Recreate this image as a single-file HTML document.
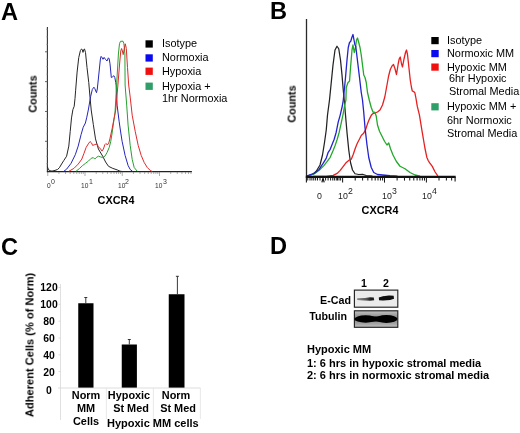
<!DOCTYPE html>
<html><head><meta charset="utf-8"><title>Figure</title>
<style>
html,body{margin:0;padding:0;background:#fff;}
body{width:520px;height:433px;position:relative;overflow:hidden;font-family:"Liberation Sans",sans-serif;}
svg{position:absolute;left:0;top:0;}
.t{position:absolute;white-space:nowrap;font-family:"Liberation Sans",sans-serif;will-change:transform;}
</style></head><body>
<svg width="520" height="433" viewBox="0 0 520 433">
<path d="M47.4 27V172.2" stroke="#333" stroke-width="1.1" fill="none"/>
<path d="M46.9 171.6H191.9" stroke="#222" stroke-width="1.35" fill="none"/>
<path d="M46.2 163.69H47.5" stroke="#999" stroke-width="0.7"/>
<path d="M46.2 156.23H47.5" stroke="#999" stroke-width="0.7"/>
<path d="M46.2 148.77H47.5" stroke="#999" stroke-width="0.7"/>
<path d="M45 141.31H47.5" stroke="#555" stroke-width="0.9"/>
<path d="M46.2 133.85H47.5" stroke="#999" stroke-width="0.7"/>
<path d="M46.2 126.39H47.5" stroke="#999" stroke-width="0.7"/>
<path d="M46.2 118.93H47.5" stroke="#999" stroke-width="0.7"/>
<path d="M45 111.47H47.5" stroke="#555" stroke-width="0.9"/>
<path d="M46.2 104.01H47.5" stroke="#999" stroke-width="0.7"/>
<path d="M46.2 96.55H47.5" stroke="#999" stroke-width="0.7"/>
<path d="M46.2 89.09H47.5" stroke="#999" stroke-width="0.7"/>
<path d="M45 81.63H47.5" stroke="#555" stroke-width="0.9"/>
<path d="M46.2 74.17H47.5" stroke="#999" stroke-width="0.7"/>
<path d="M46.2 66.71H47.5" stroke="#999" stroke-width="0.7"/>
<path d="M46.2 59.25H47.5" stroke="#999" stroke-width="0.7"/>
<path d="M45 51.79H47.5" stroke="#555" stroke-width="0.9"/>
<path d="M46.2 44.33H47.5" stroke="#999" stroke-width="0.7"/>
<path d="M46.2 36.87H47.5" stroke="#999" stroke-width="0.7"/>
<path d="M46.2 29.41H47.5" stroke="#999" stroke-width="0.7"/>
<path d="M47.75 172V176" stroke="#777" stroke-width="0.6"/>
<path d="M58.96 172V174" stroke="#777" stroke-width="0.6"/>
<path d="M65.52 172V174" stroke="#777" stroke-width="0.6"/>
<path d="M70.18 172V174" stroke="#777" stroke-width="0.6"/>
<path d="M73.79 172V174" stroke="#777" stroke-width="0.6"/>
<path d="M76.74 172V174" stroke="#777" stroke-width="0.6"/>
<path d="M79.23 172V174" stroke="#777" stroke-width="0.6"/>
<path d="M81.39 172V174" stroke="#777" stroke-width="0.6"/>
<path d="M83.30 172V174" stroke="#777" stroke-width="0.6"/>
<path d="M85.00 172V176" stroke="#777" stroke-width="0.6"/>
<path d="M96.21 172V174" stroke="#777" stroke-width="0.6"/>
<path d="M102.77 172V174" stroke="#777" stroke-width="0.6"/>
<path d="M107.43 172V174" stroke="#777" stroke-width="0.6"/>
<path d="M111.04 172V174" stroke="#777" stroke-width="0.6"/>
<path d="M113.99 172V174" stroke="#777" stroke-width="0.6"/>
<path d="M116.48 172V174" stroke="#777" stroke-width="0.6"/>
<path d="M118.64 172V174" stroke="#777" stroke-width="0.6"/>
<path d="M120.55 172V174" stroke="#777" stroke-width="0.6"/>
<path d="M122.25 172V176" stroke="#777" stroke-width="0.6"/>
<path d="M133.46 172V174" stroke="#777" stroke-width="0.6"/>
<path d="M140.02 172V174" stroke="#777" stroke-width="0.6"/>
<path d="M144.68 172V174" stroke="#777" stroke-width="0.6"/>
<path d="M148.29 172V174" stroke="#777" stroke-width="0.6"/>
<path d="M151.24 172V174" stroke="#777" stroke-width="0.6"/>
<path d="M153.73 172V174" stroke="#777" stroke-width="0.6"/>
<path d="M155.89 172V174" stroke="#777" stroke-width="0.6"/>
<path d="M157.80 172V174" stroke="#777" stroke-width="0.6"/>
<path d="M159.50 172V176" stroke="#777" stroke-width="0.6"/>
<path d="M170.71 172V174" stroke="#777" stroke-width="0.6"/>
<path d="M177.27 172V174" stroke="#777" stroke-width="0.6"/>
<path d="M181.93 172V174" stroke="#777" stroke-width="0.6"/>
<path d="M185.54 172V174" stroke="#777" stroke-width="0.6"/>
<path d="M188.49 172V174" stroke="#777" stroke-width="0.6"/>
<path d="M190.98 172V174" stroke="#777" stroke-width="0.6"/>
<polyline points="47.30,166.80 48.20,168.60 49.20,170.60 52.00,171.10 55.00,170.40 57.50,169.50 59.40,167.70 61.60,164.00 63.80,160.50 66.60,156.20 68.80,146.10 70.20,131.60 71.50,117.90 72.90,109.60 74.20,106.30 75.00,98.50 75.60,90.80 77.10,72.10 78.75,57.50 80.40,50.60 81.50,49.00 82.30,49.60 83.00,52.40 83.70,49.60 84.50,49.00 85.50,52.50 87.00,67.50 88.75,82.50 90.00,97.00 91.20,110.00 93.30,124.40 95.50,138.90 98.40,149.00 102.70,156.20 105.60,162.00 108.50,166.30 112.80,168.40 117.20,169.90 120.00,171.20 123.00,171.60" fill="none" stroke="#262626" stroke-width="1.0" stroke-linejoin="round"/>
<polyline points="63.80,171.30 66.60,169.20 71.00,163.40 75.30,154.70 78.20,146.10 81.10,134.50 83.20,127.30 85.40,123.00 86.80,117.20 88.30,110.00 89.50,103.00 90.70,96.30 92.30,89.50 93.90,87.20 94.80,88.60 96.50,92.70 97.30,89.00 98.75,75.00 100.40,59.00 101.10,56.40 102.40,58.00 103.00,59.30 104.10,57.40 105.60,59.50 107.00,61.00 108.40,57.80 109.20,58.80 110.00,63.75 111.30,77.50 112.60,76.80 113.90,75.70 114.80,77.50 115.75,82.50 116.10,85.00 117.10,105.10 119.10,121.20 120.50,131.00 122.10,141.30 125.10,155.40 128.10,165.50 130.20,169.50 132.40,171.20" fill="none" stroke="#2626b8" stroke-width="1.0" stroke-linejoin="round"/>
<polyline points="76.00,171.30 79.60,168.40 82.50,165.60 85.40,163.40 88.30,161.20 91.20,158.30 93.30,157.60 94.80,159.10 96.20,157.60 98.40,156.20 100.60,156.90 102.70,157.60 104.90,156.20 107.00,152.60 109.20,147.50 110.70,141.70 112.10,133.10 113.50,123.00 115.00,112.90 115.50,104.00 117.00,78.00 118.40,54.00 119.50,43.60 120.50,41.30 123.00,41.20 123.90,43.70 124.90,53.80 125.10,85.00 126.70,105.10 128.10,125.20 130.20,145.40 132.20,159.40 134.20,167.50 137.20,171.20" fill="none" stroke="#26a030" stroke-width="1.0" stroke-linejoin="round"/>
<polyline points="68.80,171.30 73.90,168.40 78.20,164.10 81.80,159.10 84.00,153.30 86.10,147.50 88.30,143.90 90.00,141.50 91.50,142.90 92.60,145.40 94.80,144.60 96.90,143.90 98.40,146.80 100.60,149.00 102.00,151.10 103.40,149.00 104.90,144.60 105.90,143.50 107.00,144.60 108.50,143.90 109.90,138.90 112.10,128.80 114.30,117.20 115.70,110.00 117.50,90.00 119.50,65.00 120.75,51.00 121.60,48.50 122.40,51.00 123.20,54.60 124.20,49.00 125.30,43.80 126.30,48.50 127.50,67.50 128.70,85.00 130.20,97.10 132.20,115.20 135.20,131.30 138.20,145.40 141.20,155.40 144.20,162.50 147.30,167.50 150.30,170.50 152.30,171.50" fill="none" stroke="#e02a2a" stroke-width="1.0" stroke-linejoin="round"/>
<rect x="145.5" y="40.3" width="7.3" height="7.3" fill="#000"/>
<rect x="145.5" y="54.3" width="7.3" height="7.3" fill="#0a0af0"/>
<rect x="145.5" y="67.6" width="7.3" height="7.3" fill="#f01010"/>
<rect x="145.5" y="82.6" width="7.3" height="7.3" fill="#2f9e68"/>
<polyline points="307.50,175.75 312.50,174.50 316.25,171.25 320.00,165.00 322.50,155.00 324.50,142.50 326.25,130.00 327.50,115.00 329.50,100.00 331.25,82.50 333.00,65.00 335.00,50.00 337.00,46.25 338.75,48.75 340.50,60.00 342.00,75.00 343.25,90.00 344.50,103.00 345.50,115.00 347.00,132.50 348.75,150.00 350.50,162.50 352.50,170.00 355.00,173.75 358.75,174.50 362.50,174.25 366.25,175.50 372.50,176.00" fill="none" stroke="#222" stroke-width="1.25" stroke-linejoin="round"/>
<polyline points="313.00,176.40 326.20,176.30 333.20,175.30 337.20,173.40 340.20,170.40 343.30,166.40 346.30,162.40 349.30,160.00 351.30,159.20 353.30,154.30 355.30,148.30 357.30,143.30 359.40,139.20 361.40,135.20 363.40,133.60 365.40,130.20 367.40,124.10 369.40,119.10 371.40,115.10 373.40,113.30 375.00,113.00 377.50,112.00 380.00,110.00 382.50,105.00 384.80,97.00 386.80,86.00 388.60,76.00 390.30,69.50 392.00,66.00 393.50,64.50 395.00,68.75 396.50,74.50 398.25,63.50 399.25,58.75 400.25,57.00 401.50,63.75 402.50,67.00 404.00,59.00 405.50,52.50 406.50,50.00 407.50,54.50 408.75,66.00 410.25,80.00 411.40,87.00 412.30,91.00 413.60,91.60 414.90,92.80 416.00,98.50 417.30,106.40 419.40,114.80 422.10,131.40 424.90,148.00 426.80,157.20 428.20,160.50 429.50,162.70 432.30,166.40 435.10,172.00 437.80,175.90" fill="none" stroke="#e62020" stroke-width="1.3" stroke-linejoin="round"/>
<polyline points="307.00,176.20 314.10,174.00 320.10,169.40 324.10,165.40 327.20,161.40 330.20,157.30 333.20,150.30 335.20,145.30 337.20,139.20 339.20,132.20 341.20,123.10 343.30,113.10 344.70,105.00 345.90,100.00 346.25,87.50 348.00,82.50 349.50,81.25 350.75,65.00 352.00,50.00 353.00,45.00 354.25,52.50 355.50,47.50 356.50,40.00 357.50,38.00 358.75,42.50 360.00,47.50 361.25,55.00 362.50,65.00 363.75,75.00 365.00,77.50 366.25,82.50 367.50,92.50 369.50,101.00 371.25,107.50 373.00,112.00 375.00,112.50 376.25,116.25 377.50,125.00 379.50,131.25 382.00,136.25 384.50,141.25 387.00,145.00 388.75,143.00 390.50,148.75 393.00,155.00 396.25,161.25 400.00,166.25 405.00,168.75 410.00,172.50 415.00,175.00 420.00,176.25" fill="none" stroke="#22a82a" stroke-width="1.3" stroke-linejoin="round"/>
<polyline points="307.00,176.00 308.00,175.50 314.10,173.40 319.10,169.40 323.10,163.40 326.20,158.40 328.20,152.30 330.20,149.30 332.20,144.30 334.20,139.20 336.20,132.20 338.20,122.10 340.20,115.10 342.30,106.00 343.30,100.00 343.90,94.00 345.50,77.50 347.00,60.00 348.25,47.50 349.50,42.50 350.75,41.25 352.00,37.00 353.00,34.50 354.00,40.00 355.00,45.00 355.75,46.25 356.50,52.50 358.00,65.00 359.50,77.50 361.25,92.50 362.50,100.00 363.75,112.50 365.00,127.50 367.00,145.00 368.75,157.50 371.25,167.50 373.75,172.50 377.50,174.50 382.50,175.00 390.00,175.75 397.50,176.25" fill="none" stroke="#2222d0" stroke-width="1.3" stroke-linejoin="round"/>
<path d="M306.5 19V177.4" stroke="#2a2a2a" stroke-width="1.3" fill="none"/>
<path d="M305.8 176.9H455.7" stroke="#111" stroke-width="2.3" fill="none"/>
<path d="M342.60 177.5V182.6" stroke="#1a1a1a" stroke-width="1.05"/>
<path d="M355.21 177.5V180.6" stroke="#1a1a1a" stroke-width="1.05"/>
<path d="M362.59 177.5V180.6" stroke="#1a1a1a" stroke-width="1.05"/>
<path d="M367.83 177.5V180.6" stroke="#1a1a1a" stroke-width="1.05"/>
<path d="M371.89 177.5V180.6" stroke="#1a1a1a" stroke-width="1.05"/>
<path d="M375.20 177.5V180.6" stroke="#1a1a1a" stroke-width="1.05"/>
<path d="M378.01 177.5V180.6" stroke="#1a1a1a" stroke-width="1.05"/>
<path d="M380.44 177.5V180.6" stroke="#1a1a1a" stroke-width="1.05"/>
<path d="M382.58 177.5V180.6" stroke="#1a1a1a" stroke-width="1.05"/>
<path d="M384.50 177.5V182.6" stroke="#1a1a1a" stroke-width="1.05"/>
<path d="M397.11 177.5V180.6" stroke="#1a1a1a" stroke-width="1.05"/>
<path d="M404.49 177.5V180.6" stroke="#1a1a1a" stroke-width="1.05"/>
<path d="M409.73 177.5V180.6" stroke="#1a1a1a" stroke-width="1.05"/>
<path d="M413.79 177.5V180.6" stroke="#1a1a1a" stroke-width="1.05"/>
<path d="M417.10 177.5V180.6" stroke="#1a1a1a" stroke-width="1.05"/>
<path d="M419.91 177.5V180.6" stroke="#1a1a1a" stroke-width="1.05"/>
<path d="M422.34 177.5V180.6" stroke="#1a1a1a" stroke-width="1.05"/>
<path d="M424.48 177.5V180.6" stroke="#1a1a1a" stroke-width="1.05"/>
<path d="M426.40 177.5V182.6" stroke="#1a1a1a" stroke-width="1.05"/>
<path d="M439.01 177.5V180.6" stroke="#1a1a1a" stroke-width="1.05"/>
<path d="M446.39 177.5V180.6" stroke="#1a1a1a" stroke-width="1.05"/>
<path d="M451.63 177.5V180.6" stroke="#1a1a1a" stroke-width="1.05"/>
<path d="M307.75 177.5V180.5" stroke="#1a1a1a" stroke-width="1.0"/>
<path d="M310.00 177.5V180.5" stroke="#1a1a1a" stroke-width="1.0"/>
<path d="M311.90 177.5V180.5" stroke="#1a1a1a" stroke-width="1.0"/>
<path d="M313.75 177.5V180.5" stroke="#1a1a1a" stroke-width="1.0"/>
<path d="M315.60 177.5V180.5" stroke="#1a1a1a" stroke-width="1.0"/>
<path d="M317.50 177.5V180.5" stroke="#1a1a1a" stroke-width="1.0"/>
<path d="M320.00 177.5V180.5" stroke="#1a1a1a" stroke-width="1.0"/>
<path d="M325.60 177.5V180.5" stroke="#1a1a1a" stroke-width="1.0"/>
<path d="M328.10 177.5V180.5" stroke="#1a1a1a" stroke-width="1.0"/>
<path d="M330.60 177.5V180.5" stroke="#1a1a1a" stroke-width="1.0"/>
<path d="M332.75 177.5V180.5" stroke="#1a1a1a" stroke-width="1.0"/>
<path d="M334.40 177.5V180.5" stroke="#1a1a1a" stroke-width="1.0"/>
<path d="M336.25 177.5V180.5" stroke="#1a1a1a" stroke-width="1.0"/>
<path d="M337.50 177.5V180.5" stroke="#1a1a1a" stroke-width="1.0"/>
<path d="M339.00 177.5V180.5" stroke="#1a1a1a" stroke-width="1.0"/>
<path d="M340.60 177.5V180.5" stroke="#1a1a1a" stroke-width="1.0"/>
<path d="M306.4 177V182.6" stroke="#1a1a1a" stroke-width="1.1"/>
<path d="M321.9 182.3L323 178L324.2 182.3" stroke="#111" stroke-width="1.2" fill="none"/>
<path d="M455.1 177V181.6" stroke="#1a1a1a" stroke-width="1.1"/>
<rect x="431.3" y="37" width="7.4" height="7.2" fill="#000"/>
<rect x="431.3" y="50" width="7.4" height="7.2" fill="#0a0af0"/>
<rect x="431.3" y="63.5" width="7.4" height="7.2" fill="#f01010"/>
<rect x="431.3" y="103.2" width="7.4" height="7.2" fill="#2f9e68"/>
<path d="M60.5 284V420" stroke="#d8d8d8" stroke-width="0.8"/>
<path d="M58 388H200.5" stroke="#d4d4d4" stroke-width="0.8"/>
<path d="M106.4 388V419" stroke="#e2e2e2" stroke-width="0.8"/>
<path d="M153.4 388V419" stroke="#e2e2e2" stroke-width="0.8"/>
<path d="M200.4 388V419" stroke="#e2e2e2" stroke-width="0.8"/>
<path d="M58.5 287.5H60.5" stroke="#d4d4d4" stroke-width="0.8"/>
<path d="M58.5 304.3H60.5" stroke="#d4d4d4" stroke-width="0.8"/>
<path d="M58.5 321.2H60.5" stroke="#d4d4d4" stroke-width="0.8"/>
<path d="M58.5 338H60.5" stroke="#d4d4d4" stroke-width="0.8"/>
<path d="M58.5 354.8H60.5" stroke="#d4d4d4" stroke-width="0.8"/>
<path d="M58.5 371.5H60.5" stroke="#d4d4d4" stroke-width="0.8"/>
<rect x="78.25" y="303.25" width="15.25" height="84.35000000000002" fill="#000"/>
<path d="M85.8 303.25V297.5M84.3 297.5H87.3" stroke="#222" stroke-width="0.9" fill="none"/>
<rect x="121.75" y="344.5" width="15.150000000000006" height="43.10000000000002" fill="#000"/>
<path d="M129.3 344.5V339.5M127.80000000000001 339.5H130.8" stroke="#222" stroke-width="0.9" fill="none"/>
<rect x="168.75" y="294.25" width="15.75" height="93.35000000000002" fill="#000"/>
<path d="M177.4 294.25V276.3M175.9 276.3H178.9" stroke="#222" stroke-width="0.9" fill="none"/>
<defs><filter id="bl" x="-20%" y="-80%" width="140%" height="260%"><feGaussianBlur stdDeviation="0.55"/></filter>
<filter id="bl2" x="-20%" y="-80%" width="140%" height="260%"><feGaussianBlur stdDeviation="0.7"/></filter>
<linearGradient id="tg" x1="0" y1="0" x2="0" y2="1"><stop offset="0" stop-color="#c4c4c4"/><stop offset="0.3" stop-color="#9a9a9a"/><stop offset="0.7" stop-color="#9a9a9a"/><stop offset="1" stop-color="#c2c2c2"/></linearGradient>
<linearGradient id="b1" x1="0" y1="0" x2="1" y2="0"><stop offset="0" stop-color="#8a8a8a"/><stop offset="0.55" stop-color="#555"/><stop offset="0.8" stop-color="#1c1c1c"/><stop offset="1" stop-color="#222"/></linearGradient></defs>
<rect x="354.4" y="290.1" width="43.4" height="17.1" fill="#ebebeb" stroke="#222" stroke-width="1.15"/>
<g filter="url(#bl)"><path d="M357.2 298.3L365 298.1L370 297.3L373.8 297.4L374.2 300.3L370 300.8L364 300.5L357.2 300.1Z" fill="url(#b1)"/><path d="M378.8 297.5L383 296.3L389 295.6L393.6 295.7L394 298.8L390 300L383 300.6L379 300.3Z" fill="#080808"/></g>
<rect x="354.4" y="310.8" width="43.4" height="16.5" fill="url(#tg)" stroke="#222" stroke-width="1.15"/>
<g filter="url(#bl2)"><ellipse cx="365.6" cy="319" rx="11.3" ry="3.7" fill="#000"/><ellipse cx="386.4" cy="319" rx="11.1" ry="3.9" fill="#000"/><rect x="362" y="316.4" width="28" height="5.2" fill="#000"/></g>
</svg>
<div class="t" style="left:1.0px;top:-2.16px;font-size:23.6px;line-height:28.32px;font-weight:bold;color:#000;">A</div>
<div class="t" style="left:270.4px;top:-3.26px;font-size:23.6px;line-height:28.32px;font-weight:bold;color:#000;">B</div>
<div class="t" style="left:1.3px;top:232.74px;font-size:23.6px;line-height:28.32px;font-weight:bold;color:#000;">C</div>
<div class="t" style="left:270.0px;top:231.84px;font-size:23.6px;line-height:28.32px;font-weight:bold;color:#000;">D</div>
<div class="t" style="left:33.4px;top:94px;font-size:10.8px;line-height:10.8px;font-weight:bold;transform:translate(-50%,-50%) rotate(-90deg);">Counts</div>
<div class="t" style="left:161.6px;top:37.26px;font-size:10.9px;line-height:13.08px;color:#000;">Isotype</div>
<div class="t" style="left:161.6px;top:51.26px;font-size:10.9px;line-height:13.08px;color:#000;">Normoxia</div>
<div class="t" style="left:161.6px;top:64.66px;font-size:10.9px;line-height:13.08px;color:#000;">Hypoxia</div>
<div class="t" style="left:161.6px;top:79.76px;font-size:10.9px;line-height:13.08px;color:#000;">Hypoxia +</div>
<div class="t" style="left:161.6px;top:91.86px;font-size:10.9px;line-height:13.08px;color:#000;">1hr Normoxia</div>
<div class="t" style="left:116.1px;top:193.96px;font-size:10.9px;line-height:13.08px;font-weight:bold;color:#000;transform:translateX(-50%);">CXCR4</div>
<div class="t" style="left:47.24px;top:181.87px;font-size:6.6px;line-height:7.92px;color:#333;transform:scaleY(1.2);">0</div>
<div class="t" style="left:51.21px;top:178.04px;font-size:7px;line-height:8.40px;color:#333;">0</div>
<div class="t" style="left:81.41px;top:181.87px;font-size:6.6px;line-height:7.92px;color:#333;transform:scaleY(1.2);">10</div>
<div class="t" style="left:89.04px;top:178.04px;font-size:7px;line-height:8.40px;color:#333;">1</div>
<div class="t" style="left:117.60px;top:181.87px;font-size:6.6px;line-height:7.92px;color:#333;transform:scaleY(1.2);">10</div>
<div class="t" style="left:125.24px;top:178.04px;font-size:7px;line-height:8.40px;color:#333;">2</div>
<div class="t" style="left:155.10px;top:181.87px;font-size:6.6px;line-height:7.92px;color:#333;transform:scaleY(1.2);">10</div>
<div class="t" style="left:162.74px;top:178.04px;font-size:7px;line-height:8.40px;color:#333;">3</div>
<div class="t" style="left:292.3px;top:104px;font-size:10.8px;line-height:10.8px;font-weight:bold;transform:translate(-50%,-50%) rotate(-90deg);">Counts</div>
<div class="t" style="left:447px;top:33.66px;font-size:10.9px;line-height:13.08px;color:#000;">Isotype</div>
<div class="t" style="left:447px;top:47.26px;font-size:10.9px;line-height:13.08px;color:#000;">Normoxic MM</div>
<div class="t" style="left:447px;top:60.86px;font-size:10.9px;line-height:13.08px;color:#000;">Hypoxic MM</div>
<div class="t" style="left:448.8px;top:72.26px;font-size:10.9px;line-height:13.08px;color:#000;">6hr Hypoxic</div>
<div class="t" style="left:448.8px;top:84.86px;font-size:10.9px;line-height:13.08px;color:#000;">Stromal Media</div>
<div class="t" style="left:447px;top:99.76px;font-size:10.9px;line-height:13.08px;color:#000;">Hypoxic MM +</div>
<div class="t" style="left:446.7px;top:113.86px;font-size:10.9px;line-height:13.08px;color:#000;">6hr Normoxic</div>
<div class="t" style="left:447px;top:126.56px;font-size:10.9px;line-height:13.08px;color:#000;">Stromal Media</div>
<div class="t" style="left:380.0px;top:204.16px;font-size:10.9px;line-height:13.08px;font-weight:bold;color:#000;transform:translateX(-50%);">CXCR4</div>
<div class="t" style="left:316.55px;top:191.15px;font-size:8.8px;line-height:10.56px;color:#222;transform:scaleY(1.0);">0</div>
<div class="t" style="left:338.34px;top:191.15px;font-size:8.8px;line-height:10.56px;color:#222;transform:scaleY(1.0);">10</div>
<div class="t" style="left:348.43px;top:185.55px;font-size:8.7px;line-height:10.44px;color:#222;">2</div>
<div class="t" style="left:381.84px;top:191.15px;font-size:8.8px;line-height:10.56px;color:#222;transform:scaleY(1.0);">10</div>
<div class="t" style="left:391.93px;top:185.55px;font-size:8.7px;line-height:10.44px;color:#222;">3</div>
<div class="t" style="left:421.84px;top:191.15px;font-size:8.8px;line-height:10.56px;color:#222;transform:scaleY(1.0);">10</div>
<div class="t" style="left:431.93px;top:185.55px;font-size:8.7px;line-height:10.44px;color:#222;">4</div>
<div class="t" style="left:30.0px;top:344.7px;font-size:11.1px;line-height:11.1px;font-weight:bold;transform:translate(-50%,-50%) rotate(-90deg);">Adherent Cells (% of Norm)</div>
<div class="t" style="left:48.6px;top:282.16px;font-size:10.4px;line-height:12.48px;font-weight:bold;color:#000;transform:translateX(-50%);">120</div>
<div class="t" style="left:48.6px;top:299.36px;font-size:10.4px;line-height:12.48px;font-weight:bold;color:#000;transform:translateX(-50%);">100</div>
<div class="t" style="left:48.6px;top:316.26px;font-size:10.4px;line-height:12.48px;font-weight:bold;color:#000;transform:translateX(-50%);">80</div>
<div class="t" style="left:48.6px;top:333.36px;font-size:10.4px;line-height:12.48px;font-weight:bold;color:#000;transform:translateX(-50%);">60</div>
<div class="t" style="left:48.6px;top:350.06px;font-size:10.4px;line-height:12.48px;font-weight:bold;color:#000;transform:translateX(-50%);">40</div>
<div class="t" style="left:48.6px;top:367.36px;font-size:10.4px;line-height:12.48px;font-weight:bold;color:#000;transform:translateX(-50%);">20</div>
<div class="t" style="left:48.6px;top:384.56px;font-size:10.4px;line-height:12.48px;font-weight:bold;color:#000;transform:translateX(-50%);">0</div>
<div class="t" style="left:85.8px;top:388.86px;font-size:10.9px;line-height:13.08px;font-weight:bold;color:#000;transform:translateX(-50%);">Norm</div>
<div class="t" style="left:85.8px;top:401.66px;font-size:10.9px;line-height:13.08px;font-weight:bold;color:#000;transform:translateX(-50%);">MM</div>
<div class="t" style="left:85.8px;top:414.76px;font-size:10.9px;line-height:13.08px;font-weight:bold;color:#000;transform:translateX(-50%);">Cells</div>
<div class="t" style="left:129.2px;top:389.06px;font-size:10.9px;line-height:13.08px;font-weight:bold;color:#000;transform:translateX(-50%);">Hypoxic</div>
<div class="t" style="left:130.6px;top:401.66px;font-size:10.9px;line-height:13.08px;font-weight:bold;color:#000;transform:translateX(-50%);">St Med</div>
<div class="t" style="left:176.1px;top:388.86px;font-size:10.9px;line-height:13.08px;font-weight:bold;color:#000;transform:translateX(-50%);">Norm</div>
<div class="t" style="left:177.5px;top:401.66px;font-size:10.9px;line-height:13.08px;font-weight:bold;color:#000;transform:translateX(-50%);">St Med</div>
<div class="t" style="left:107.4px;top:416.90px;font-size:11.0px;line-height:13.20px;font-weight:bold;color:#000;">Hypoxic MM cells</div>
<div class="t" style="left:364.3px;top:277.34px;font-size:10.6px;line-height:12.72px;font-weight:bold;color:#000;transform:translateX(-50%);">1</div>
<div class="t" style="left:385.5px;top:277.34px;font-size:10.6px;line-height:12.72px;font-weight:bold;color:#000;transform:translateX(-50%);">2</div>
<div class="t" style="left:350.9px;top:293.78px;font-size:10.7px;line-height:12.84px;font-weight:bold;color:#000;transform:translateX(-100%);">E-Cad</div>
<div class="t" style="left:347.4px;top:310.48px;font-size:10.7px;line-height:12.84px;font-weight:bold;color:#000;transform:translateX(-100%);">Tubulin</div>
<div class="t" style="left:307.4px;top:343.00px;font-size:11.0px;line-height:13.20px;font-weight:bold;color:#000;">Hypoxic MM</div>
<div class="t" style="left:307.4px;top:356.70px;font-size:11.0px;line-height:13.20px;font-weight:bold;color:#000;">1: 6 hrs in hypoxic stromal media</div>
<div class="t" style="left:307.4px;top:369.10px;font-size:11.0px;line-height:13.20px;font-weight:bold;color:#000;">2: 6 hrs in normoxic stromal media</div>
</body></html>
